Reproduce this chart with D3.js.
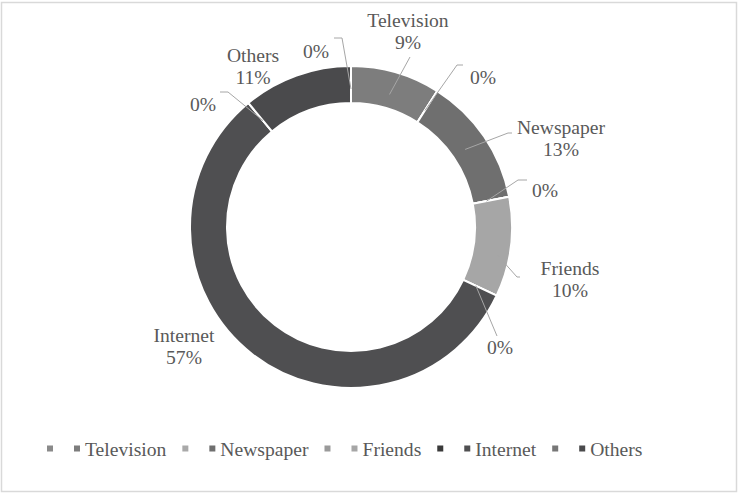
<!DOCTYPE html>
<html>
<head>
<meta charset="utf-8">
<script src="https://cdn.jsdelivr.net/npm/d3@7"></script>
<style>
  html, body { margin: 0; padding: 0; background: #fff; }
  svg { display: block; }
</style>
</head>
<body>
<svg id="chart" width="739" height="493"></svg>
<script>
// Where people get their news: share by source
const categories = ["", "Television", "", "Newspaper", "", "Friends", "", "Internet", "", "Others"];
const values = [0, 9, 0, 13, 0, 10, 0, 57, 0, 11];
const colors = ["#8a8a8a", "#7d7d7d", "#a9a9a9", "#6f6f6f", "#9a9a9a", "#a6a6a6", "#3a3a3a", "#4f4f51", "#777777", "#4a4a4c"];

// Label placement (centre of each label block) and leader-line anchors on the label side
const labelCentres = [[316, 51], [408, 31], [483, 77], [561, 138], [545, 190], [570, 279], [500, 347], [184, 346], [203, 104], [253, 66]];
const leaderStarts = [
  [[334, 38], [342, 38]],
  [[410, 57]],
  [[463, 65], [457, 65]],
  [[512, 133], [508, 133]],
  [[527, 180], [518, 180]],
  [[520, 277], [517, 277]],
  [[497, 336]],
  null,
  [[220, 92], [228, 92]],
  null
];

const FONT = "'Liberation Serif', 'Times New Roman', 'DejaVu Serif', serif";
const svg = d3.select("#chart");
const cx = 351, cy = 227, rOuter = 161, rInner = 124, rLeader = 138;
const fontSize = 19.6, lineH = 22;
const textColor = "#595959";

// Frame
svg.append("rect")
  .attr("x", 1.5).attr("y", 2.5)
  .attr("width", 735).attr("height", 489)
  .attr("fill", "#fff").attr("stroke", "#d9d9d9").attr("stroke-width", 1.5);

const data = categories.map((c, i) => ({ name: c, value: values[i], color: colors[i], idx: i }));

const pie = d3.pie().sort(null).value(d => d.value);
const arcs = pie(data);
const arc = d3.arc().innerRadius(rInner).outerRadius(rOuter);
const leaderArc = d3.arc().innerRadius(rLeader).outerRadius(rLeader);

const g = svg.append("g").attr("transform", `translate(${cx},${cy})`);

g.selectAll("path.slice")
  .data(arcs)
  .join("path")
  .attr("class", "slice")
  .attr("d", arc)
  .attr("fill", d => d.data.color)
  .attr("stroke", "#fff")
  .attr("stroke-width", 2)
  .attr("stroke-linejoin", "round");

// Leader lines: from label anchor to the middle of the ring at the slice's mid-angle
const line = d3.line();
arcs.forEach((a, i) => {
  const starts = leaderStarts[i];
  if (!starts) return;
  const end = leaderArc.centroid(a);
  const pts = starts.map(p => [p[0], p[1]]).concat([[end[0] + cx, end[1] + cy]]);
  svg.append("path")
    .attr("d", line(pts))
    .attr("fill", "none")
    .attr("stroke", "#a6a6a6")
    .attr("stroke-width", 1);
});

// Data labels
const fmt = v => d3.format(".0f")(v) + "%";
arcs.forEach((a, i) => {
  const [lx, ly] = labelCentres[i];
  const lines = a.data.name ? [a.data.name, fmt(a.data.value)] : [fmt(a.data.value)];
  const t = svg.append("text")
    .attr("text-anchor", "middle")
    .attr("font-family", FONT)
    .attr("fill", textColor)
    .attr("font-size", fontSize);
  lines.forEach((s, k) => {
    t.append("tspan")
      .attr("x", lx)
      .attr("y", ly + (k - (lines.length - 1) / 2) * lineH)
      .attr("dy", "0.35em")
      .text(s);
  });
});

// Legend: a marker for every series, a name where the series has one
const legend = svg.append("g").attr("transform", "translate(47,0)");
const legendY = 449, markerSize = 6;
let x = 0;
data.forEach(d => {
  const item = legend.append("g").attr("transform", `translate(${x},0)`);
  item.append("rect")
    .attr("x", 0).attr("y", legendY - markerSize / 2 - 0.5)
    .attr("width", markerSize).attr("height", markerSize)
    .attr("fill", d.color);
  if (d.name) {
    const t = item.append("text")
      .attr("x", markerSize + 5)
      .attr("y", legendY)
      .attr("dy", "0.35em")
      .attr("font-family", FONT)
      .attr("fill", textColor)
      .attr("font-size", fontSize)
      .text(d.name);
    x += markerSize + 5 + t.node().getComputedTextLength() + 16;
  } else {
    x += 27;
  }
});
</script>
</body>
</html>
